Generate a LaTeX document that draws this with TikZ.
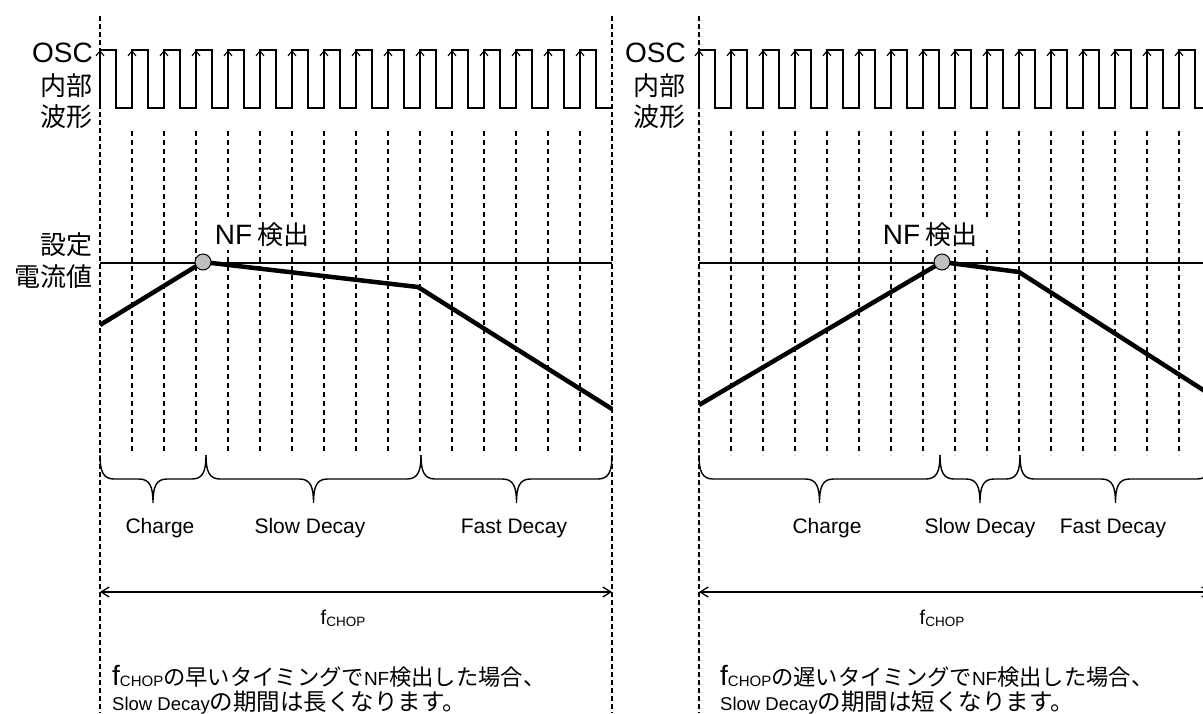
\documentclass[tikz,border=0pt]{standalone}
\usepackage{fontspec}
\setmainfont{Liberation Sans}
\newfontfamily\jp{Noto Sans CJK JP}
\usetikzlibrary{arrows.meta,positioning}

\newcommand{\fs}[1]{\fontsize{#1}{#1}\selectfont}
% f with CHOP subscript: f size, sub size, drop
\newcommand{\fchop}[3]{{\fs{#1}f}\raisebox{-#3pt}{\fs{#2}CHOP}}

\tikzset{
  bound/.style={line width=1.2pt, dash pattern=on 5pt off 3pt},
  tick/.style={line width=1.2pt, dash pattern=on 5pt off 4pt},
  wave/.style={line width=2.7pt},
  rise/.style={line width=1.1pt, -{Straight Barb[length=5pt,width=8pt]}},
  level/.style={line width=1.2pt},
  current/.style={line width=4.5pt, line join=round},
  nfdot/.style={circle, draw, line width=1pt, fill=black!25, minimum size=16pt, inner sep=0pt},
  nflabel/.style={fill=white, inner xsep=11pt, inner ysep=3pt},
  period/.style={line width=1.3pt, {Straight Barb[length=8pt,width=10pt]}-{Straight Barb[length=8pt,width=10pt]}},
  phase/.style={font=\fs{21}, inner sep=0pt, anchor=base},
  brc/.style={line width=1.4pt},
  side/.style={anchor=east, inner sep=0pt, font=\jp\fs{26}},
  note/.style={anchor=base west, inner sep=0pt}
}

% curly brace under one phase, tip pointing down
\newcommand{\phasebrace}[2]{%
  \pgfmathsetmacro{\BM}{(#1+#2)/2}
  \draw[brc] (#1,455) .. controls (#1,471) and (#1+3,479) .. (#1+14,479)
    -- (\BM-14,479) .. controls (\BM-3,479) and (\BM,487) .. (\BM,503)
    .. controls (\BM,487) and (\BM+3,479) .. (\BM+14,479)
    -- (#2-14,479) .. controls (#2-3,479) and (#2,471) .. (#2,455);
}

\begin{document}
\begin{tikzpicture}[x=1pt, y=-1pt]
    % ==== Parameters ====
    \def\PER{32}              % OSC period
    \def\CHOP{512}            % chop period = 16 OSC periods
    \def\LO{108}              % OSC low level (high is 58 above)
    \def\REF{263}             % set current level
    \useasboundingbox (0,0) rectangle (1203,713);
    \clip (0,0) rectangle (1203,713);

    % ==== Common part of both panels ====
    \foreach \X/\N in {100/A, 699/B}{
        % chop period boundaries
        \draw[bound] (\X,16) -- (\X,713);
        \draw[bound] (\X+\CHOP,16) -- (\X+\CHOP,713);
        % OSC ticks
        \foreach \k in {1,...,15}{
            \draw[tick] (\X+\k*\PER,131) -- (\X+\k*\PER,455);
          }
        % OSC internal wave with rising edges
        \draw[wave] (\X,\LO) \foreach \k in {0,...,15}{ -- ++(0,-58) -- ++(16,0) -- ++(0,58) -- ++(16,0)};
        \foreach \k in {0,...,15}{
            \draw[rise] (\X+\k*\PER,70) -- (\X+\k*\PER,50);
          }
        % set current level
        \draw[level] (\X,\REF) -- (\X+\CHOP,\REF);
        % chop period arrow
        \coordinate (p\N1) at (\X,592);
        \coordinate (p\N2) at (\X+\CHOP,592);
        \draw[period] (p\N1) -- (p\N2);
        \node[phase] (fchop\N) at (\X+243,624) {\fchop{20}{13.5}{2}};
      }

    % ==== Left panel: early NF detection ====
    \node[side] (oscA) at (93,53) {\rmfamily\fs{28}OSC};
    \node[side] (oscA1) at (93,86) {内部};
    \node[side] (oscA2) at (93,117) {波形};
    \node[side] (refA1) at (93,245) {設定};
    \node[side] (refA2) at (93,277) {電流値};

    \coordinate (iA0) at (100,325);
    \coordinate (nfA) at (203,262);
    \coordinate (iA2) at (418,287);
    \coordinate (iA3) at (612,409);
    \draw[current] (iA0) -- (nfA) -- (iA2) -- (iA3);
    \node[nfdot] (dotA) at (nfA) {};
    \node[nflabel] (nfA-label) at (262,235) {{\fs{28}NF}\hspace{5pt}{\jp\fs{26}検出}};

    \phasebrace{100}{206}
    \phasebrace{206}{421}
    \phasebrace{421}{612}
    \node[phase] (chargeA) at (160,533) {Charge};
    \node[phase] (slowA) at (310,533) {Slow Decay};
    \node[phase] (fastA) at (514,533) {Fast Decay};

    \node[note] (noteA1) at (112,685) {\fchop{28}{15}{1}{\jp\fs{22.3}の早いタイミングで}{\fs{19}NF}{\jp\fs{22.3}検出した場合、}};
    \node[note] (noteA2) at (112,710) {{\fs{18.5}Slow Decay}{\jp\fs{23.5}の期間は長くなります。}};

    % ==== Right panel: late NF detection ====
    \node[side] (oscB) at (686,53) {\rmfamily\fs{28}OSC};
    \node[side] (oscB1) at (686,86) {内部};
    \node[side] (oscB2) at (686,117) {波形};

    \coordinate (iB0) at (699,405);
    \coordinate (nfB) at (942,262);
    \coordinate (iB2) at (1019,272);
    \coordinate (iB3) at (1211,395);
    \draw[current] (iB0) -- (nfB) -- (iB2) -- (iB3);
    \node[nfdot] (dotB) at (nfB) {};
    \node[nflabel] (nfB-label) at (930,235) {{\fs{28}NF}\hspace{5pt}{\jp\fs{26}検出}};

    \phasebrace{699}{940}
    \phasebrace{940}{1020}
    \phasebrace{1020}{1211}
    \node[phase] (chargeB) at (827,533) {Charge};
    \node[phase] (slowB) at (980,533) {Slow Decay};
    \node[phase] (fastB) at (1113,533) {Fast Decay};

    \node[note] (noteB1) at (720,685) {\fchop{28}{15}{1}{\jp\fs{22.3}の遅いタイミングで}{\fs{19}NF}{\jp\fs{22.3}検出した場合、}};
    \node[note] (noteB2) at (720,710) {{\fs{18.5}Slow Decay}{\jp\fs{23.5}の期間は短くなります。}};
  \end{tikzpicture}
\end{document}
